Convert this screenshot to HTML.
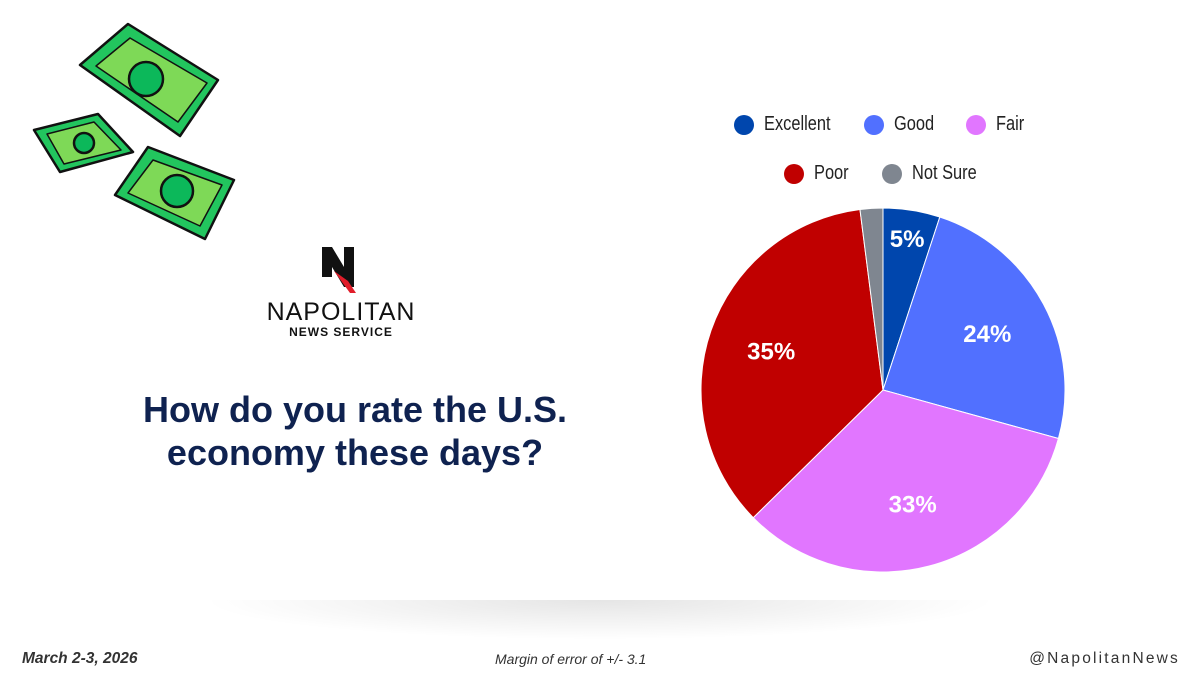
<!DOCTYPE html>
<html><head><meta charset="utf-8"><style>
body{margin:0;width:1200px;height:675px;background:#fff;font-family:"Liberation Sans",sans-serif;overflow:hidden;position:relative}
.abs{position:absolute}
.leg{position:absolute;font-size:20px;color:#222;display:flex;align-items:center;transform-origin:left center}
.leg i{display:inline-block;width:20px;height:20px;border-radius:50%;margin-right:10px}
.leg span{display:inline-block;transform:scaleX(0.82);transform-origin:left center}
</style></head><body>
<div class="abs" style="left:200px;top:600px;width:800px;height:40px;background:radial-gradient(ellipse at 50% 0%,rgba(0,0,0,0.1),rgba(0,0,0,0) 70%)"></div>
<svg class="abs" style="left:0;top:0" width="260" height="260">
 <g stroke="#111" stroke-width="2.5" stroke-linejoin="round">
  <polygon points="80,65 128,24 218,80 180,136" fill="#22c55e"/>
  <polygon points="96,66 130,38 207,83 178,122" fill="#7ed957" stroke-width="1.5"/>
  <circle cx="146" cy="79" r="17" fill="#0cb85a"/>
  <polygon points="34,130 98,114 133,152 60,172" fill="#22c55e"/>
  <polygon points="47,134 94,122 121,150 64,164" fill="#7ed957" stroke-width="1.5"/>
  <circle cx="84" cy="143" r="10" fill="#0cb85a"/>
  <polygon points="115,195 148,147 234,180 205,239" fill="#22c55e"/>
  <polygon points="128,193 153,160 222,185 200,226" fill="#7ed957" stroke-width="1.5"/>
  <circle cx="177" cy="191" r="16" fill="#0cb85a"/>
 </g>
</svg>
<svg class="abs" style="left:320px;top:245px" width="40" height="52">
 <polygon points="2,2 12,2 24,22 24,2 34,2 34,42 24,42 12,22 12,32 2,32" fill="#111"/>
 <polygon points="14,26 28,36 36,48 30,48" fill="#e11d2a"/>
</svg>
<div class="abs" style="left:250px;top:298px;width:182px;text-align:center;font-size:25px;letter-spacing:1px;color:#111">NAPOLITAN</div>
<div class="abs" style="left:250px;top:325px;width:182px;text-align:center;font-size:12px;font-weight:bold;letter-spacing:1px;color:#111">NEWS SERVICE</div>
<div class="abs" style="left:95px;top:388px;width:520px;text-align:center;font-size:36px;font-weight:bold;color:#0f2250;line-height:43px">How do you rate the U.S.<br>economy these days?</div>
<div class="leg" style="left:734px;top:113px"><i style="background:#0046ad"></i><span>Excellent</span></div>
<div class="leg" style="left:864px;top:113px"><i style="background:#5170ff"></i><span>Good</span></div>
<div class="leg" style="left:966px;top:113px"><i style="background:#e176ff"></i><span>Fair</span></div>
<div class="leg" style="left:784px;top:162px"><i style="background:#c00000"></i><span>Poor</span></div>
<div class="leg" style="left:882px;top:162px"><i style="background:#7f8690"></i><span>Not Sure</span></div>
<svg class="abs" id="pie" style="left:0;top:0" width="1200" height="675"></svg>
<div class="abs" style="left:22px;top:650px;font-size:15.5px;font-style:italic;font-weight:bold;color:#333">March 2-3, 2026</div>
<div class="abs" style="left:495px;top:651px;font-size:14px;font-style:italic;color:#333">Margin of error of +/- 3.1</div>
<div class="abs" style="right:20px;top:650px;font-size:15.5px;letter-spacing:2.2px;color:#333">@NapolitanNews</div>
<script>
const categories=["Excellent","Good","Fair","Poor","Not Sure"];
const values=[5,24,33,35,2];
const labels=["5%","24%","33%","35%",""];
const colors=["#0046ad","#5170ff","#e176ff","#c00000","#7f8690"];
const cx=883,cy=390,r=182;
const svg=document.getElementById('pie');
const NS="http://www.w3.org/2000/svg";
const total=values.reduce((a,b)=>a+b,0);
let a0=0;
function pt(a,rr){return [cx+rr*Math.sin(a),cy-rr*Math.cos(a)];}
values.forEach((v,i)=>{
 const a1=a0+v/total*2*Math.PI;
 const p0=pt(a0,r),p1=pt(a1,r);
 const p=document.createElementNS(NS,'path');
 p.setAttribute('d',`M${cx},${cy}L${p0[0]},${p0[1]}A${r},${r} 0 ${a1-a0>Math.PI?1:0} 1 ${p1[0]},${p1[1]}Z`);
 p.setAttribute('fill',colors[i]);p.setAttribute('stroke','#fff');p.setAttribute('stroke-width','1');
 
 
 svg.appendChild(p);
 if(labels[i]){
  const m=(a0+a1)/2;const lr=v<10?r*0.84:r*0.65;const q=pt(m,lr);
  const t=document.createElementNS(NS,'text');
  t.setAttribute('x',q[0]);t.setAttribute('y',q[1]+8);t.setAttribute('text-anchor','middle');
  t.setAttribute('fill','#fff');t.setAttribute('font-size','24');t.setAttribute('font-weight','bold');
  t.setAttribute('font-family','Liberation Sans, sans-serif');
  t.textContent=labels[i];
  
  
  svg.appendChild(t);
 }
 a0=a1;
});
</script>
</body></html>
